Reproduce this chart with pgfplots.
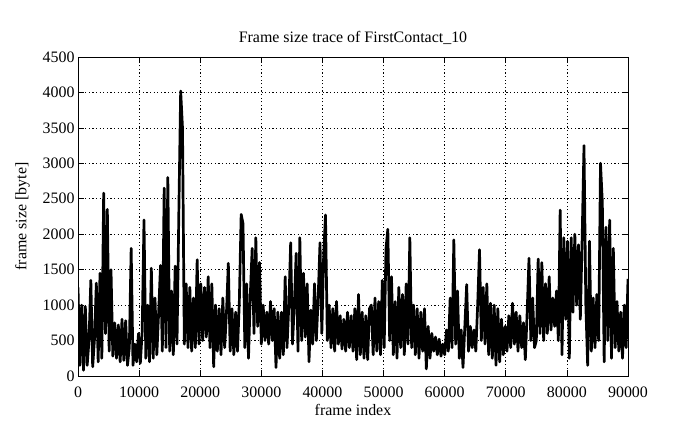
\documentclass[border=0pt]{standalone}
\usepackage{fontspec}
\setmainfont{Liberation Serif}
\usepackage{pgfplots}
\pgfplotsset{compat=1.18}
\begin{document}
\begin{tikzpicture}
\begin{axis}[
  width=550bp, height=319bp, scale only axis,
  xmin=0, xmax=90000, ymin=0, ymax=4500,
  xtick={0,10000,...,90000}, ytick={0,500,...,4500},
  scaled x ticks=false, scaled y ticks=false,
  /pgf/number format/1000 sep={},
  /pgf/number format/assume math mode=true,
  font=\fontsize{16}{19}\selectfont,
  tick label style={font=\fontsize{16}{19}\selectfont},
  xticklabel style={yshift=-7bp},
  tick align=inside, tick pos=both,
  major tick length=6bp,
  axis line style={line width=0.8bp},
  every tick/.style={black, line width=0.6bp},
  grid=major,
  major grid style={black, line width=0.6bp, dash pattern=on 1.2bp off 2.4bp},
  title={Frame size trace of FirstContact\_10},
  title style={yshift=3bp},
  xlabel={frame index},
  ylabel={frame size [byte]},
  xlabel style={yshift=0bp},
  ylabel style={yshift=6bp},
]
\addplot[black, line width=2.7bp, line join=round, line cap=butt] table {
x y
0 1250
300 150
600 1000
900 80
1200 980
1500 150
1800 500
2100 1350
2400 130
2700 520
3000 1310
3300 200
3600 1450
3900 250
4200 2580
4500 600
4800 2350
5100 350
5400 1500
5700 280
6000 750
6300 250
6600 720
6900 200
7200 800
7500 220
7800 780
8100 150
8400 400
8700 1800
9000 150
9300 450
9600 200
9900 600
10200 180
10500 620
10800 2200
11100 250
11400 1000
11700 200
12000 1520
12300 250
12600 1100
12900 300
13200 900
13500 1560
13800 350
14100 2650
14400 400
14700 2800
15000 350
15300 1200
15600 300
15900 1550
16200 450
16500 2300
16800 4020
17100 3500
17400 450
17700 1300
18000 400
18300 1250
18600 350
18900 1100
19200 400
19500 1640
19800 450
20100 1300
20400 500
20700 1250
21000 550
21300 1400
21600 400
21900 1300
22200 130
22500 1000
22800 350
23100 950
23400 300
23700 1100
24000 400
24300 900
24600 1590
24900 350
25200 950
25500 300
25800 900
26100 350
26400 1050
26700 2280
27000 2150
27300 400
27600 1300
27900 250
28200 1150
28500 1800
28800 600
29100 1950
29400 700
29700 1600
30000 450
30300 1000
30600 500
30900 900
31200 450
31500 1050
31800 500
32100 950
32400 120
32700 900
33000 250
33300 900
33600 300
33900 1400
34200 400
34500 1000
34800 1880
35100 450
35400 1000
35700 1730
36000 350
36300 1950
36600 500
36900 1450
37200 550
37500 1300
37800 200
38100 930
38400 450
38700 1300
39000 500
39300 1100
39600 1880
39900 600
40200 1700
40500 2270
40800 500
41100 1000
41400 400
41700 950
42000 350
42300 1050
42600 450
42900 850
43200 380
43500 800
43800 350
44100 900
44400 400
44700 850
45000 350
45300 950
45600 230
45900 1150
46200 300
46500 900
46800 250
47100 850
47400 230
47700 950
48000 1000
48300 300
48600 1100
48900 350
49200 1050
49500 300
49800 1350
50100 400
50400 1800
50700 2070
51000 500
51300 1400
51600 300
51900 1050
52200 250
52500 1250
52800 400
53100 1150
53400 300
53700 1300
54000 450
54300 1950
54600 400
54900 1000
55200 300
55500 950
55800 250
56100 900
56400 350
56700 950
57000 100
57300 700
57600 250
57900 600
58200 350
58500 550
58800 300
59100 520
59400 280
59700 450
60000 300
60300 650
60600 350
60900 1100
61200 400
61500 1920
61800 450
62100 1200
62400 250
62700 650
63000 120
63300 700
63600 1290
63900 350
64200 700
64500 400
64800 650
65100 350
65400 1000
65700 1780
66000 500
66300 1250
66600 450
66900 1300
67200 300
67500 1025
67800 250
68100 1000
68400 150
68700 950
69000 200
69300 800
69600 300
69900 700
70200 350
70500 850
70800 400
71100 1025
71400 450
71700 900
72000 350
72300 850
72600 400
72900 750
73200 230
73500 900
73800 1660
74100 500
74400 1100
74700 400
75000 500
75300 1650
75600 600
75900 1600
76200 500
76500 1300
76800 600
77100 1400
77400 650
77700 1100
78000 700
78300 1200
78600 500
78900 2340
79200 300
79500 1950
79800 800
80100 1900
80400 250
80700 1950
81000 900
81300 2000
81600 1000
81900 1850
82200 800
82500 1950
82800 3250
83100 1000
83400 150
83700 1900
84000 350
84300 1100
84600 400
84900 1150
85200 500
85500 3000
85800 2450
86100 200
86400 2100
86700 500
87000 2200
87300 250
87600 1800
87900 400
88200 1050
88500 350
88800 900
89100 250
89400 1000
89700 400
90000 1370
};
\end{axis}
\path ([xshift=-78bp,yshift=-53bp]current axis.south west) ([xshift=67bp,yshift=57bp]current axis.north east);
\end{tikzpicture}
\end{document}
